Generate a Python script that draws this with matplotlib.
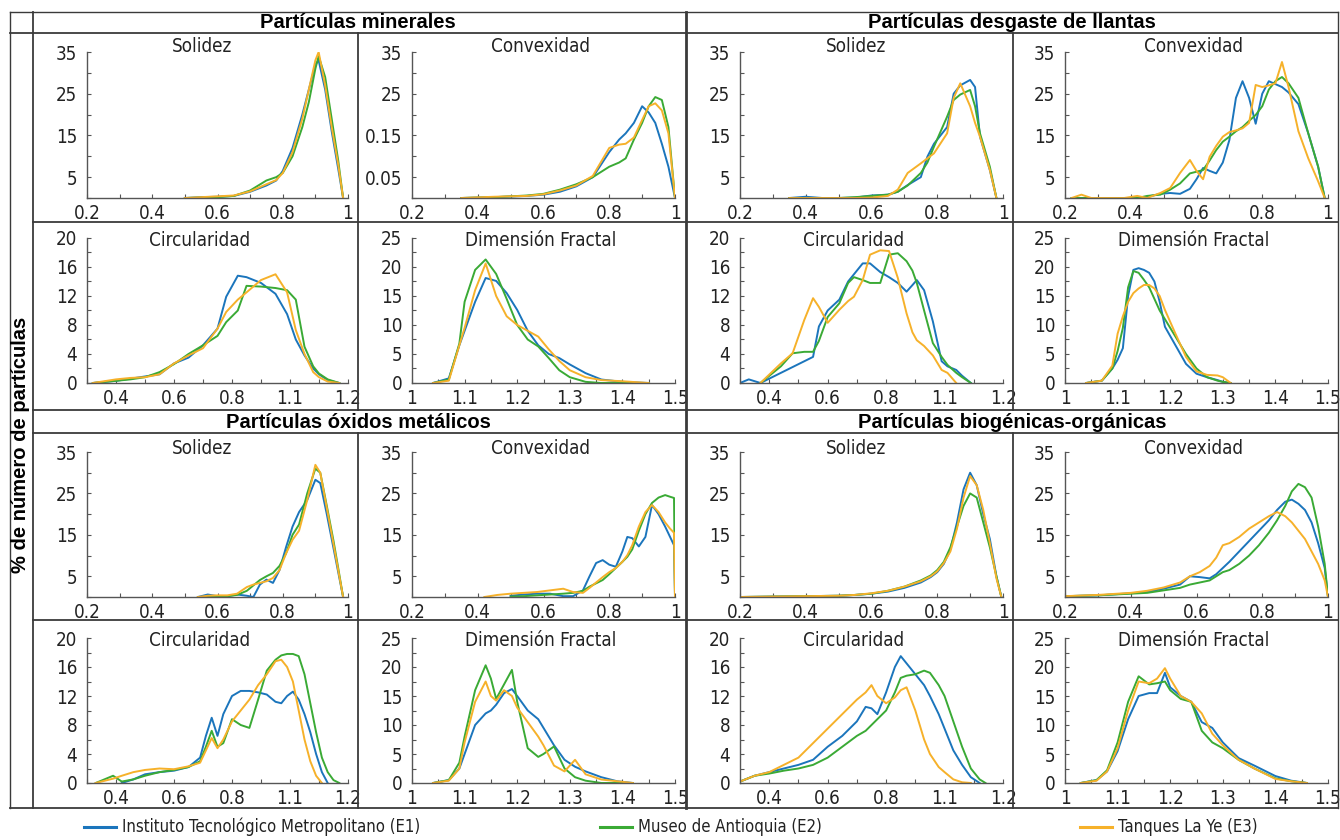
"""Shape-descriptor distributions of particles at three sampling sites."""

import numpy as np
import matplotlib.pyplot as plt
from matplotlib.lines import Line2D

plt.rcParams["font.family"] = ["DejaVu Sans"]
plt.rcParams["font.stretch"] = "condensed"
plt.rcParams["font.size"] = 13

nan = np.nan

SERIES = [
    "Instituto Tecnológico Metropolitano (E1)",
    "Museo de Antioquia (E2)",
    "Tanques La Ye (E3)",
]
COLORS = ["#1b75bc", "#3aaa35", "#f6b12a"]
GROUPS = [
    "Partículas minerales",
    "Partículas desgaste de llantas",
    "Partículas óxidos metálicos",
    "Partículas biogénicas-orgánicas",
]
SHAPES = ["Solidez", "Convexidad", "Circularidad", "Dimensión Fractal"]
YLABEL = "% de número de partículas"

# tick labels as printed on each kind of axis
SOL_XLABELS = ["0.2", "0.4", "0.6", "0.8", "1"]
SOL_YLABELS = ["", "5", "", "15", "", "25", "", "35"]
MIN_CONV_YLABELS = ["", "0.05", "", "0.15", "", "25", "", "35"]
CIRC_XLABELS = ["0.4", "0.6", "0.8", "1.1", "1.2"]
CIRC_YLABELS = ["0", "4", "8", "12", "16", "20"]
DF_XLABELS = ["1", "1.1", "1.2", "1.3", "1.4", "1.5"]
DF_YLABELS = ["0", "5", "10", "15", "20", "25"]

# --- Partículas minerales ---
MIN_SOL_X = [0.5, 0.55, 0.6, 0.65, 0.7, 0.75, 0.78, 0.8, 0.83, 0.86, 0.88, 0.9, 0.91, 0.93, 0.95, 0.97, 0.985]
MIN_SOL_E1 = [0, 0.2, 0.3, 0.5, 1.5, 3.0, 4.2, 6.5, 12, 20, 26, 32, 33, 26, 16, 7, 0]
MIN_SOL_E2 = [0, 0.1, 0.2, 0.5, 1.8, 4.2, 5.0, 6.0, 10, 17, 23, 31, 34, 29, 19, 9, 0]
MIN_SOL_E3 = [0, 0.2, 0.4, 0.6, 1.6, 3.3, 4.3, 6.0, 11, 19, 26, 33, 35, 27, 17, 8, 0]

MIN_CONV_X = [0.35, 0.45, 0.55, 0.6, 0.65, 0.7, 0.75, 0.8, 0.83, 0.85, 0.875, 0.9, 0.92, 0.94, 0.96, 0.98, 1.0]
MIN_CONV_E1 = [0, 0.2, 0.5, 0.8, 1.5, 2.8, 5.0, 11, 14, 15.5, 18, 22, 20.5, 18, 13, 7.5, 0]
MIN_CONV_E2 = [0, 0.2, 0.6, 1.0, 2.0, 3.3, 5.0, 7.5, 8.5, 9.5, 14, 18, 22, 24.2, 23.5, 17, 0]
MIN_CONV_E3 = [0, 0.3, 0.5, 0.9, 1.8, 3.0, 5.3, 12, 12.8, 13, 14.5, 18.7, 22, 22.7, 21, 15.5, 0]

MIN_CIRC_X = [0.32, 0.4, 0.45, 0.5, 0.55, 0.6, 0.65, 0.7, 0.75, 0.78, 0.82, 0.85, 0.9, 0.95, 0.99, 1.02, 1.05, 1.08, 1.1, 1.13, 1.17]
MIN_CIRC_E1 = [0, 0.3, 0.6, 0.9, 1.2, 2.7, 3.5, 5.2, 7.5, 11.9, 14.8, 14.6, 13.8, 12.3, 9.5, 6, 3.8, 2.0, 1.2, 0.4, 0]
MIN_CIRC_E2 = [0, 0.3, 0.5, 0.8, 1.5, 2.6, 4, 5.2, 6.5, 8.4, 10, 13.4, 13.3, 13.1, 12.8, 11.5, 5, 2.3, 1.3, 0.5, 0]
MIN_CIRC_E3 = [0, 0.5, 0.7, 0.8, 1.2, 2.7, 3.8, 4.8, 7.5, 9.8, 11.5, 12.5, 14.2, 15, 12.5, 7.3, 4, 1.5, 0.8, 0.2, 0]

MIN_DF_X = [1.04, 1.07, 1.09, 1.1, 1.12, 1.14, 1.16, 1.18, 1.2, 1.22, 1.24, 1.26, 1.28, 1.3, 1.33, 1.36, 1.4, 1.45]
MIN_DF_E1 = [0, 0.8, 6.5, 9, 14, 18.1, 17.6, 15.5, 12.6, 9, 6.5, 5, 4.3, 3.2, 1.7, 0.6, 0.2, 0]
MIN_DF_E2 = [0, 0.6, 6.8, 14, 19.5, 21.3, 18.8, 14.5, 10, 7.5, 6.3, 4.3, 2.2, 1.0, 0.2, 0, 0, 0]
MIN_DF_E3 = [0, 0.4, 6.5, 9.5, 16, 20.6, 15, 11.5, 10, 9, 8, 5.8, 3.8, 2.2, 1.0, 0.5, 0.3, 0]

# --- Partículas desgaste de llantas ---
LLA_SOL_X = [0.35, 0.4, 0.45, 0.5, 0.55, 0.6, 0.65, 0.68, 0.71, 0.75, 0.77, 0.79, 0.83, 0.85, 0.87, 0.9, 0.915, 0.93, 0.96, 0.98]
LLA_SOL_E1 = [0, 0.3, 0, 0, 0.1, 0.6, 0.8, 1.5, 3.1, 5.0, 9.9, 13, 17, 25, 27, 28.3, 26.6, 14.7, 6.7, 0]
LLA_SOL_E2 = [0, 0, 0, 0, 0.2, 0.5, 0.8, 1.5, 3, 6, 8.5, 12.3, 19.5, 23.5, 24.8, 25.9, 22, 15.5, 7.5, 0]
LLA_SOL_E3 = [0, 0, 0, 0, 0, 0.1, 0.5, 2.0, 6, 8.3, 9.5, 10.7, 15.5, 24, 27.5, 22, 18, 14.7, 6.7, 0]

LLA_CONV_X = [0.22, 0.25, 0.28, 0.38, 0.42, 0.45, 0.49, 0.52, 0.55, 0.58, 0.6, 0.62, 0.64, 0.66, 0.68,
              0.7, 0.72, 0.74, 0.76, 0.78, 0.8, 0.82, 0.84, 0.86, 0.88, 0.91, 0.94, 0.97, 0.99]
LLA_CONV_E1 = [0, 0, 0, 0, 0, 0.3, 1, 1.2, 1, 2.2, 4.5, 7.2, 6.5, 5.9, 8.5,
               13.9, 24, 28, 24, 17.8, 25, 28, 27.3, 26.6, 25.3, 22.5, 15.5, 7.5, 0]
LLA_CONV_E2 = [0, 0, 0, 0, 0, 0.5, 0.8, 2, 3.5, 5.9, 6.3, 6.7, 9, 11.5, 13.5,
               14.7, 16, 17, 18.5, 19.9, 22, 26, 28, 29, 27.5, 24, 15.5, 7.5, 0]
LLA_CONV_E3 = [0, 0.8, 0, 0, 0.5, 0, 1.2, 2.4, 6, 9.1, 6.5, 4.5, 9.9, 12.5, 14.7,
               15.8, 16.2, 16.7, 18, 27.1, 26.6, 27, 27.5, 32.6, 26.6, 16, 9.5, 4, 0]

LLA_CIRC_X = [0.3, 0.33, 0.37, 0.44, 0.48, 0.52, 0.55, 0.57, 0.6, 0.64, 0.67, 0.69, 0.72, 0.745,
              0.78, 0.81, 0.84, 0.87, 0.89, 0.905, 0.93, 0.96, 0.99, 1.01, 1.04, 1.06, 1.09]
LLA_CIRC_E1 = [0, 0.5, 0, 1.4, 2.2, 3.0, 3.6, 7.8, 10, 11.5, 14, 15, 16.5, 16.5,
               15.3, 14.6, 13.8, 12.6, 13.5, 14.2, 12.8, 8.5, 3, 2.3, 1.8, 1.0, 0]
LLA_CIRC_E2 = [nan, nan, 0, 2.3, 4.1, 4.3, 4.3, 5.8, 9.1, 11, 13.8, 14.6, 14.2, 13.8,
               13.8, 17.7, 17.9, 16.8, 15.5, 13.8, 10, 5.5, 3.6, 2.5, 1.4, 0.8, 0]
LLA_CIRC_E3 = [nan, nan, 0, 2.7, 4.1, 8.7, 11.7, 10.5, 8.3, 10.1, 11.3, 11.9, 14.2, 17.7,
               18.3, 18.2, 14.5, 9.6, 7.0, 5.9, 5.1, 3.8, 1.8, 1.4, 0, nan, nan]

LLA_DF_X = [1.04, 1.07, 1.09, 1.1, 1.11, 1.12, 1.13, 1.14, 1.15, 1.16, 1.17, 1.18, 1.19, 1.21, 1.23, 1.25, 1.27, 1.29, 1.3, 1.315]
LLA_DF_E1 = [0, 0.4, 2.5, 4, 6, 15, 19.5, 19.8, 19.5, 19, 17.5, 14, 9.7, 6.5, 3.3, 1.6, 1.0, 0.5, 0.2, 0]
LLA_DF_E2 = [0, 0.4, 2.5, 5.5, 9.5, 16.5, 19.3, 19, 17.8, 16.5, 14.5, 12.5, 11, 8, 5, 2.5, 1, 0.4, 0.2, 0]
LLA_DF_E3 = [0, 0.4, 3, 8.5, 11.5, 14, 15.5, 16.3, 16.9, 16.9, 16.3, 15, 12.6, 8.5, 4.5, 2, 1.4, 1.3, 1.0, 0]

# --- Partículas óxidos metálicos ---
OXI_SOL_X = [0.54, 0.57, 0.6, 0.63, 0.66, 0.69, 0.71, 0.73, 0.75, 0.77, 0.79, 0.81, 0.83, 0.85,
             0.875, 0.9, 0.915, 0.935, 0.955, 0.97, 0.985]
OXI_SOL_E1 = [0, 0.6, 0.2, 0.2, 0.6, 0.3, 0, 3.0, 4.2, 3.4, 6.5, 12, 17, 20.5, 23.4, 28.3, 27.5, 20, 12, 6, 0]
OXI_SOL_E2 = [0, 0, 0.1, 0.2, 0.5, 1.5, 2.8, 4.1, 5, 5.8, 7.5, 10.5, 15, 17.5, 25, 31, 30, 22, 13.8, 7, 0]
OXI_SOL_E3 = [0, 0.3, 0.4, 0.4, 0.8, 2.4, 3.0, 3.4, 3.8, 4.6, 6.5, 10.5, 13.8, 16, 23.4, 31.9, 30, 21.5, 13, 6.5, 0]

OXI_CONV_X = [0.42, 0.46, 0.5, 0.54, 0.58, 0.62, 0.66, 0.69, 0.72, 0.74, 0.76, 0.78, 0.8,
              0.82, 0.84, 0.855, 0.87, 0.89, 0.91, 0.93, 0.95, 0.97, 0.985, 0.997, 1.0]
OXI_CONV_E1 = [nan, nan, 0.3, 0.6, 0.8, 0.8, 0.2, 0.2, 1.6, 5, 8.2, 8.9, 7.8,
               7.3, 11, 14.5, 14.2, 12.2, 14.5, 22.2, 20, 17, 14.5, 12.5, 0]
OXI_CONV_E2 = [nan, nan, 0.1, 0.2, 0.4, 0.6, 0.8, 1.0, 1.5, 2.5, 3.3, 4.1, 5.5,
               7, 8.5, 9.7, 11.5, 16, 20, 22.7, 24, 24.6, 24.2, 23.9, 0]
OXI_CONV_E3 = [0, 0.5, 0.8, 1.0, 1.2, 1.6, 2.0, 1.2, 1.0, 2.2, 3.5, 4.8, 6,
               7, 8.5, 10.1, 12.5, 17, 20.5, 22.2, 20.5, 18, 16.5, 15.5, 0]

OXI_CIRC_X = [0.33, 0.36, 0.39, 0.42, 0.46, 0.5, 0.55, 0.6, 0.65, 0.69, 0.71, 0.73, 0.75, 0.77, 0.8, 0.83,
              0.86, 0.89, 0.92, 0.95, 0.97, 0.99, 1.01, 1.03, 1.05, 1.07, 1.09, 1.11, 1.13, 1.15, 1.17]
OXI_CIRC_E1 = [nan, nan, nan, 0, 0.5, 1.2, 1.5, 1.7, 2.2, 3.5, 6.5, 9.0, 6.5, 9.5, 12.0, 12.7,
               12.7, 12.5, 12.2, 11.2, 11.0, 12.0, 12.6, 11.5, 9.5, 7, 4, 1.5, 0, nan, nan]
OXI_CIRC_E2 = [0, 0.5, 1.0, 0.2, 0.5, 1.0, 1.5, 1.8, 2.2, 3.0, 5.0, 7.2, 5.0, 5.5, 8.8, 8.0,
               7.6, 11.5, 15.5, 17.0, 17.6, 17.8, 17.8, 17.5, 15, 11, 7, 3.5, 1.5, 0.4, 0]
OXI_CIRC_E3 = [0, 0.3, 0.6, 1.0, 1.5, 1.8, 2.0, 1.9, 2.3, 2.8, 4.5, 6.2, 4.8, 6, 8.5, 10,
               11.5, 13.5, 15, 16.8, 17, 16, 14, 10, 6, 3, 1, 0, nan, nan, nan]

OXI_DF_X = [1.04, 1.07, 1.09, 1.1, 1.12, 1.14, 1.15, 1.16, 1.175, 1.19, 1.2, 1.22, 1.24, 1.25,
            1.27, 1.29, 1.31, 1.33, 1.36, 1.39, 1.42]
OXI_DF_E1 = [0, 0.5, 2.5, 5, 10, 12, 12.5, 13.5, 15.5, 16.2, 15, 12.5, 11, 9.5, 6.5, 4, 2.8, 2, 1, 0.3, 0]
OXI_DF_E2 = [0, 0.5, 3.5, 8, 16, 20.3, 18, 14.5, 17, 19.5, 14, 6, 4.5, 5, 6.3, 2.5, 1, 0.4, 0, 0, 0]
OXI_DF_E3 = [0, 0.4, 2.5, 7, 14, 17.5, 15, 14.2, 16, 15, 13, 10.5, 8, 6.5, 3, 2, 4, 1.5, 0.6, 0.3, 0]

# --- Partículas biogénicas-orgánicas ---
BIO_SOL_X = [0.2, 0.3, 0.4, 0.5, 0.55, 0.6, 0.65, 0.7, 0.75, 0.78, 0.8, 0.82, 0.84, 0.86,
             0.88, 0.9, 0.92, 0.94, 0.96, 0.98, 0.995]
BIO_SOL_E1 = [0, 0.1, 0.2, 0.3, 0.5, 0.8, 1.3, 2.2, 3.5, 4.8, 6, 8, 11.5, 18, 26, 30, 27, 20, 14, 5, 0]
BIO_SOL_E2 = [0, 0.1, 0.2, 0.3, 0.5, 0.8, 1.5, 2.5, 4, 5.2, 6.5, 8.5, 12, 17, 22, 25, 24, 18, 12, 5, 0]
BIO_SOL_E3 = [0, 0.1, 0.2, 0.3, 0.5, 0.9, 1.5, 2.5, 3.8, 5, 6.2, 8.2, 11, 16.5, 24, 29.2, 27, 21, 13, 4.5, 0]

BIO_CONV_X = [0.2, 0.3, 0.4, 0.45, 0.5, 0.55, 0.58, 0.61, 0.64, 0.66, 0.68, 0.7, 0.73, 0.76,
              0.79, 0.82, 0.845, 0.87, 0.89, 0.91, 0.93, 0.95, 0.97, 0.99, 1.0]
BIO_CONV_E1 = [0.2, 0.4, 0.9, 1.2, 2, 3, 5, 4.8, 4.5, 5.5, 7, 8.5, 11, 13.5,
               16, 18.5, 21, 23, 23.5, 22.5, 21, 18, 13, 7, 0]
BIO_CONV_E2 = [0.2, 0.4, 0.8, 1.0, 1.6, 2.2, 3, 3.5, 4, 5, 6, 6.5, 8, 10,
               12.5, 15.5, 18.5, 22, 25.5, 27.3, 26.5, 24, 17, 8, 0]
BIO_CONV_E3 = [0.2, 0.5, 1.0, 1.5, 2.3, 3.5, 5, 6, 7.5, 9.5, 12.5, 13, 14.5, 16.5,
               18, 19.5, 20.5, 19.5, 18, 16, 14, 11, 8, 4, 0]

BIO_CIRC_X = [0.3, 0.35, 0.4, 0.45, 0.5, 0.55, 0.6, 0.65, 0.7, 0.73, 0.75, 0.77, 0.8, 0.83,
              0.85, 0.87, 0.9, 0.93, 0.95, 0.98, 1.0, 1.03, 1.06, 1.09, 1.12, 1.14]
BIO_CIRC_E1 = [0.2, 1.0, 1.5, 2.0, 2.5, 3.2, 5, 6.5, 8.5, 10.5, 10.3, 9.5, 12.5, 16,
               17.5, 16.5, 15, 13.5, 12, 9.5, 7.5, 4.5, 2.5, 0.8, 0, nan]
BIO_CIRC_E2 = [0.2, 1.0, 1.3, 1.7, 2.0, 2.5, 3.5, 5, 6.5, 7.2, 8, 8.8, 10, 12.5,
               14.5, 14.8, 15, 15.5, 15.2, 13.5, 12, 8.5, 5, 2, 0.5, 0]
BIO_CIRC_E3 = [0.2, 1.0, 1.5, 2.5, 3.5, 5.5, 7.5, 9.5, 11.5, 12.5, 13.5, 12, 11, 11.8,
               12.8, 13.2, 10, 6, 4, 2.2, 1.5, 0.5, 0.1, 0, nan, nan]

BIO_DF_X = [1.03, 1.06, 1.08, 1.1, 1.12, 1.14, 1.16, 1.175, 1.19, 1.2, 1.22, 1.24, 1.26, 1.28,
            1.3, 1.33, 1.36, 1.4, 1.43, 1.46]
BIO_DF_E1 = [0, 0.5, 2, 5.5, 11, 15, 15.5, 15.5, 19, 16.5, 15, 14, 10.5, 9.5, 7, 4.3, 3, 1.2, 0.4, 0]
BIO_DF_E2 = [0, 0.5, 2.2, 7, 14, 18.4, 17, 17.2, 17.5, 16, 14.5, 14, 9, 7, 6, 4, 2.5, 0.8, 0.3, 0]
BIO_DF_E3 = [0, 0.4, 2, 6, 12.5, 17.5, 17.2, 18, 19.8, 18, 15, 14, 12, 8.5, 6.5, 4, 2.5, 0.7, 0.3, 0]

PANEL_DATA = [
    [(MIN_SOL_X, MIN_SOL_E1, MIN_SOL_E2, MIN_SOL_E3),
     (MIN_CONV_X, MIN_CONV_E1, MIN_CONV_E2, MIN_CONV_E3),
     (MIN_CIRC_X, MIN_CIRC_E1, MIN_CIRC_E2, MIN_CIRC_E3),
     (MIN_DF_X, MIN_DF_E1, MIN_DF_E2, MIN_DF_E3)],
    [(LLA_SOL_X, LLA_SOL_E1, LLA_SOL_E2, LLA_SOL_E3),
     (LLA_CONV_X, LLA_CONV_E1, LLA_CONV_E2, LLA_CONV_E3),
     (LLA_CIRC_X, LLA_CIRC_E1, LLA_CIRC_E2, LLA_CIRC_E3),
     (LLA_DF_X, LLA_DF_E1, LLA_DF_E2, LLA_DF_E3)],
    [(OXI_SOL_X, OXI_SOL_E1, OXI_SOL_E2, OXI_SOL_E3),
     (OXI_CONV_X, OXI_CONV_E1, OXI_CONV_E2, OXI_CONV_E3),
     (OXI_CIRC_X, OXI_CIRC_E1, OXI_CIRC_E2, OXI_CIRC_E3),
     (OXI_DF_X, OXI_DF_E1, OXI_DF_E2, OXI_DF_E3)],
    [(BIO_SOL_X, BIO_SOL_E1, BIO_SOL_E2, BIO_SOL_E3),
     (BIO_CONV_X, BIO_CONV_E1, BIO_CONV_E2, BIO_CONV_E3),
     (BIO_CIRC_X, BIO_CIRC_E1, BIO_CIRC_E2, BIO_CIRC_E3),
     (BIO_DF_X, BIO_DF_E1, BIO_DF_E2, BIO_DF_E3)],
]

W, H = 1340, 840
COL_SPANS = [(87, 348), (412, 675), (740, 1003), (1065, 1328)]
ROW_SPANS = [(52, 198), (238, 383), (452, 597), (638, 783)]
TITLE_Y = [47, 241, 449, 640]
TITLE_X = [0.44, 0.49, 0.43, 0.49]
GRAY = "#555555"
LINE = "#3a3a3a"
BOLD_FONT = ["Liberation Sans", "DejaVu Sans"]


def fx(px):
    return px / W


def fy(py):
    return 1 - py / H


def style_axis(ax, shape, group):
    for side in ("top", "right"):
        ax.spines[side].set_visible(False)
    for side in ("left", "bottom"):
        ax.spines[side].set_color(GRAY)
        ax.spines[side].set_linewidth(1.0)
    ax.tick_params(which="both", direction="in", length=3, width=0.8,
                   color=GRAY, labelsize=13.5, labelcolor="#222222")
    ax.tick_params(axis="y", pad=7)
    ax.tick_params(axis="x", pad=4)

    if shape in ("Solidez", "Convexidad"):
        ax.set_xlim(0.2, 1.0)
        ax.set_xticks(np.arange(0.2, 1.01, 0.2), SOL_XLABELS)
        ax.set_xticks(np.arange(0.3, 1.0, 0.2), minor=True)
        ax.set_ylim(0, 35)
        labels = MIN_CONV_YLABELS if (shape == "Convexidad" and group == 0) else SOL_YLABELS
        ax.set_yticks(np.arange(0, 36, 5), labels)
    elif shape == "Circularidad":
        ax.set_xlim(0.3, 1.2)
        ax.set_xticks(np.arange(0.4, 1.21, 0.2), CIRC_XLABELS)
        ax.set_xticks(np.arange(0.3, 1.2, 0.2), minor=True)
        ax.set_ylim(0, 20)
        ax.set_yticks(np.arange(0, 21, 4), CIRC_YLABELS)
        ax.set_yticks(np.arange(2, 20, 4), minor=True)
    else:
        ax.set_xlim(1.0, 1.5)
        ax.set_xticks(np.arange(1.0, 1.51, 0.1), DF_XLABELS)
        ax.set_xticks(np.arange(1.05, 1.5, 0.1), minor=True)
        ax.set_ylim(0, 25)
        ax.set_yticks(np.arange(0, 26, 5), DF_YLABELS)
        ax.set_yticks(np.arange(2.5, 25, 5), minor=True)


fig = plt.figure(figsize=(W / 100, H / 100), dpi=100)

for g in range(4):
    grow, gcol = divmod(g, 2)
    for s, shape in enumerate(SHAPES):
        srow, scol = divmod(s, 2)
        r, c = grow * 2 + srow, gcol * 2 + scol
        x0, x1 = COL_SPANS[c]
        ytop, ybot = ROW_SPANS[r]
        ax = fig.add_axes([fx(x0), fy(ybot), (x1 - x0) / W, (ybot - ytop) / H])
        style_axis(ax, shape, g)
        xs, *ys = PANEL_DATA[g][s]
        for y, color in zip(ys, COLORS):
            ax.plot(xs, y, color=color, lw=1.4, solid_joinstyle="round")
        ax.text(TITLE_X[s], (ybot - TITLE_Y[r]) / (ybot - ytop), shape,
                transform=ax.transAxes, ha="center", va="center",
                fontsize=13.5, color="#222222")


# table frame around the panels
def hline(py, xa, xb, lw=1.3):
    fig.add_artist(Line2D([fx(xa), fx(xb)], [fy(py), fy(py)], color=LINE, lw=lw))


def vline(px, ya, yb, lw=1.3):
    fig.add_artist(Line2D([fx(px), fx(px)], [fy(ya), fy(yb)], color=LINE, lw=lw))


hline(12, 10, 1338, lw=1.0)
hline(33, 10, 1338)
hline(222, 33, 1338)
hline(410, 33, 1338)
hline(433, 33, 1338)
hline(620, 33, 1338)
hline(808, 10, 1338)
vline(10, 12, 808, lw=1.0)
vline(33, 12, 808)
vline(686, 12, 808, lw=2.0)
vline(1338, 12, 808, lw=1.0)
for xv in (358, 1013):
    vline(xv, 33, 410)
    vline(xv, 433, 808)

for g, name in enumerate(GROUPS):
    grow, gcol = divmod(g, 2)
    cx = 358 if gcol == 0 else 1012
    cy = 22 if grow == 0 else 422
    fig.text(fx(cx), fy(cy), name, ha="center", va="center", fontsize=14.5,
             fontweight="bold", fontstretch="normal", family=BOLD_FONT)

fig.text(fx(21), fy(445), YLABEL, rotation=90, ha="center", va="center",
         fontsize=14.5, fontweight="bold", fontstretch="normal", family=BOLD_FONT)

# legend row under the table
LEGEND_X = [(84, 116), (600, 632), (1080, 1112)]
for (xa, xb), label, color in zip(LEGEND_X, SERIES, COLORS):
    fig.add_artist(Line2D([fx(xa), fx(xb)], [fy(827), fy(827)], color=color, lw=2.2))
    fig.text(fx(xb + 6), fy(827), label, ha="left", va="center", fontsize=12,
             color="#222222")

fig.savefig("out.png", dpi=100)
